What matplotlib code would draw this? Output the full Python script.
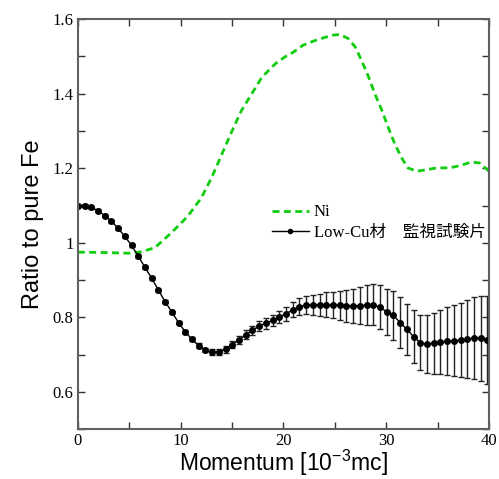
import numpy as np
import matplotlib
matplotlib.use('Agg')
import matplotlib.pyplot as plt
from matplotlib.lines import Line2D
from matplotlib.ticker import FixedLocator, MultipleLocator

# Low-Cu material, surveillance specimen (62 points, even momentum grid)
lowcu_step = 0.6533
lowcu_y = [1.100, 1.099, 1.095, 1.086, 1.073, 1.058, 1.039, 1.017, 0.993, 0.964,
           0.934, 0.905, 0.873, 0.842, 0.814, 0.786, 0.761, 0.741, 0.724, 0.712,
           0.707, 0.708, 0.714, 0.727, 0.739, 0.753, 0.765, 0.777, 0.784, 0.792,
           0.801, 0.810, 0.820, 0.829, 0.833, 0.834, 0.834, 0.834, 0.833, 0.833,
           0.831, 0.830, 0.831, 0.833, 0.834, 0.827, 0.815, 0.805, 0.786, 0.768,
           0.748, 0.732, 0.728, 0.731, 0.734, 0.736, 0.737, 0.739, 0.741, 0.745,
           0.744, 0.738]
lowcu_err = [0.004] * 16 + [
    0.005, 0.005, 0.006, 0.006, 0.007, 0.008, 0.009, 0.010, 0.011, 0.012,
    0.013, 0.014, 0.015, 0.015, 0.016, 0.019, 0.020, 0.022, 0.024, 0.027,
    0.030, 0.033, 0.036, 0.039, 0.043, 0.046, 0.050, 0.053, 0.055, 0.059,
    0.062, 0.065, 0.068, 0.069, 0.071, 0.074, 0.077, 0.082, 0.087, 0.091,
    0.095, 0.100, 0.105, 0.110, 0.114, 0.118]
lowcu_x = np.arange(len(lowcu_y)) * lowcu_step

# Ni curve
ni_x = [0.0, 2.5, 5.0, 6.2, 7.5, 9.1, 10.3, 10.9, 12.0, 13.0, 14.0, 15.0, 15.9,
        16.9, 17.9, 19.2, 20.1, 21.0, 21.9, 22.9, 23.9, 24.8, 25.5, 26.3, 27.0,
        27.6, 28.3, 28.9, 29.6, 30.2, 30.85, 31.5, 32.1, 32.96, 33.9, 34.9,
        36.2, 37.3, 38.3, 39.1, 40.0]
ni_y = [0.975, 0.974, 0.972, 0.976, 0.987, 1.027, 1.060, 1.079, 1.120, 1.174,
        1.237, 1.300, 1.354, 1.399, 1.444, 1.480, 1.498, 1.512, 1.530, 1.541,
        1.550, 1.557, 1.559, 1.548, 1.525, 1.489, 1.444, 1.399, 1.354, 1.309,
        1.264, 1.228, 1.201, 1.192, 1.196, 1.201, 1.201, 1.208, 1.217, 1.214,
        1.192]

y_ticks = [0.6, 0.8, 1.0, 1.2, 1.4, 1.6]
y_ticklabels = ['0.6', '0.8', '1', '1.2', '1.4', '1.6']
x_ticks = [0, 10, 20, 30, 40]

serif = ['Liberation Serif', 'Noto Sans CJK JP']
plt.rcParams['mathtext.fontset'] = 'custom'
plt.rcParams['mathtext.rm'] = 'Liberation Sans'

fig = plt.figure(figsize=(4.99, 4.79), dpi=100)
ax = fig.add_axes([0.156, 0.104, 0.824, 0.856])

ni_line, = ax.plot(ni_x, ni_y, color='#11cc11', lw=2, linestyle=(0, (2.5, 1.6)))
ax.errorbar(lowcu_x, lowcu_y, yerr=lowcu_err, color='black', ecolor='#222222',
            elinewidth=1, capsize=2, capthick=1, lw=1, marker='o', ms=4)

ax.set_xlim(0, 40)
ax.set_ylim(0.5, 1.6)
ax.xaxis.set_major_locator(FixedLocator(x_ticks))
ax.xaxis.set_minor_locator(MultipleLocator(5))
ax.yaxis.set_major_locator(FixedLocator(y_ticks))
ax.yaxis.set_minor_locator(FixedLocator([0.5, 0.7, 0.9, 1.1, 1.3, 1.5]))
ax.set_yticklabels(y_ticklabels)
ax.tick_params(which='both', direction='in', top=True, right=True,
               length=5, width=1, color='#333333', labelsize=12, pad=3)
for lbl in ax.get_xticklabels() + ax.get_yticklabels():
    lbl.set_family(serif)

for sp in ax.spines.values():
    sp.set_color('#606060')
    sp.set_linewidth(1.5)

ax.set_xlabel('Momentum [10$^{\\mathregular{-3}}$mc]', fontsize=16.5,
              family='Liberation Sans', labelpad=-1)
ax.set_ylabel('Ratio to pure Fe', fontsize=17, family='Liberation Sans', labelpad=6)

handles = [ni_line,
           Line2D([], [], color='black', lw=1, marker='o', ms=3)]
labels = ['Ni', 'Low-Cu材\u3000監視試験片']
ax.legend(handles, labels, loc='upper left', bbox_to_anchor=(0.472, 0.548),
          frameon=False, prop={'family': serif, 'size': 12}, borderpad=0,
          borderaxespad=0, handlelength=2.2, handletextpad=0.3, labelspacing=0.25)

fig.savefig('out.png', dpi=100)
